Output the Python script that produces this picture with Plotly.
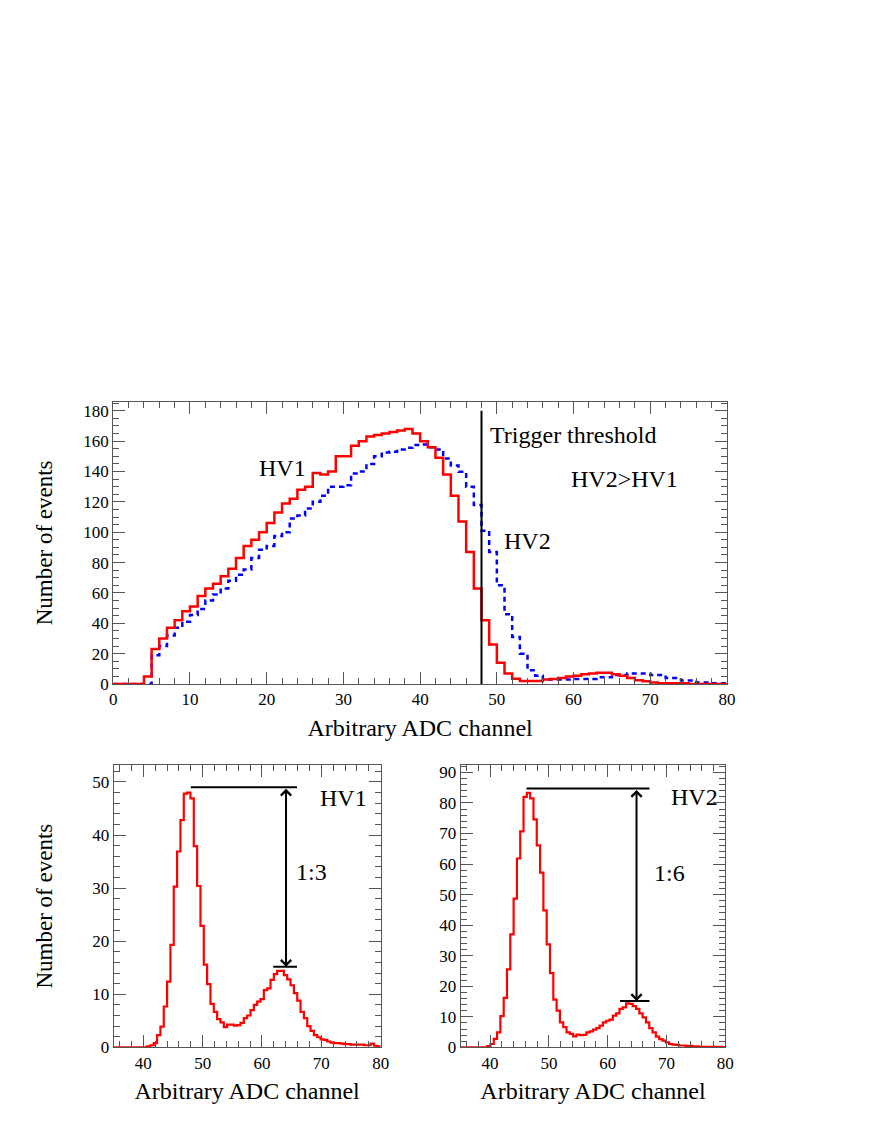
import numpy as np
import plotly.graph_objects as go

# top panel: unit bins 0..80
top_lo, top_hi = 0, 80
hv1_top = [0, 0, 0, 0, 5, 23, 30, 37, 42, 48,
           51, 58, 63, 66, 71, 76, 83, 91, 95, 100,
           106, 113, 119, 122, 128, 130, 139, 138, 140, 150,
           150, 157, 160, 163, 164, 165, 166, 167, 168, 165,
           160, 156, 149, 138, 124, 107, 87, 63, 42, 26,
           14, 7, 3.5, 2, 2, 2, 3, 3.3, 4, 5,
           5.5, 6.5, 7, 7.5, 7.5, 6.5, 5.5, 4, 2.5, 1.8,
           1, 0.5, 0.5, 0.5, 0.5, 0, 0, 0, 0, 0]
hv2_top = [0, 0, 0, 0, 0, 19, 25, 32, 37, 41,
           45.5, 49.5, 55, 59, 63, 68, 72, 75.5, 83, 88.5,
           91, 97.5, 100, 109, 111, 115.6, 120, 124, 130, 130,
           131, 138.7, 140, 145, 150, 152.6, 153, 154.5, 155.6, 157.4,
           157.8, 156, 154.5, 148.6, 144, 139.8, 130, 118, 101, 87,
           65, 46, 31, 20, 9, 5.5, 3, 3, 3, 3,
           3.3, 3.3, 3.3, 4.4, 4.4, 6, 6, 7, 7, 7,
           6, 6, 4, 4, 2.4, 2.4, 1, 1, 0.5, 0.5]
threshold = 48

# bottom panels: 80 bins from 35 to 80
bot_lo, bot_hi = 35, 80
hv1_bot = [0, 0, 0, 0, 0, 0, 0, 0, 0, 0,
           0.2, 0.4, 0.8, 2.3, 3.9, 7.7, 12.4, 19.3, 30.3, 36.9,
           42.8, 47.8, 48.0, 46.9, 37.9, 30.4, 22.9, 15.6, 11.9, 8.2,
           6.7, 5.3, 4.7, 3.8, 4.3, 4.3, 4.1, 4.2, 4.6, 5.5,
           6.0, 7.0, 8.0, 8.6, 9.1, 10.8, 11.1, 12.7, 13.8, 14.4,
           14.4, 13.6, 12.8, 11.7, 10.2, 8.8, 6.7, 5.5, 4.0, 3.1,
           2.3, 1.9, 1.5, 1.4, 1.1, 0.9, 0.8, 0.8, 0.7, 0.6,
           0.6, 0.5, 0.5, 0.5, 0.5, 0.4, 0.4, 0.7, 0.3, 0.2]
hv2_bot = [0, 0, 0, 0, 0, 0, 0, 0, 0.4, 1.1,
           2.8, 4.9, 10.2, 16.2, 25.5, 37, 48.7, 61.8, 70.7, 82,
           83.3, 81.5, 74.6, 66.1, 57.2, 44.8, 33.7, 24.3, 15.6, 12.0,
           8.2, 6.6, 4.9, 4.4, 3.6, 4.2, 4.0, 4.1, 4.9, 5.2,
           5.8, 6.3, 7.1, 8.2, 8.7, 9.1, 10.4, 11.1, 12.6, 13.1,
           14.4, 14.2, 13.5, 12.6, 11.1, 9.8, 8.2, 6.3, 4.9, 3.5,
           2.7, 2.2, 1.6, 1.1, 0.9, 0.8, 0.6, 0.6, 0.5, 0.5,
           0.3, 0.3, 0.2, 0.2, 0.2, 0.2, 0.2, 0.2, 0.2, 0.1]

# ratio markers: (peak level, shoulder level, line start, shoulder start, end, arrow x)
hv1_marks = dict(top=49.0, low=15.2, x0=48.0, xs=61.9, x1=65.9, xa=64.05)
hv2_marks = dict(top=84.7, low=15.2, x0=46.2, xs=62.1, x1=67.1, xa=64.9)

FONT = "Liberation Serif"
RED = "#ff0000"
BLUE = "#0000ff"

# page body has an 8px margin, so domains are shifted a bit
dx = 8 / 872
dy = 8 / 1128


def steps(lo, hi, vals):
    edges = np.linspace(lo, hi, len(vals) + 1)
    return edges, list(vals) + [vals[-1]]


fig = go.Figure()

x, y = steps(top_lo, top_hi, hv2_top)
fig.add_trace(go.Scatter(x=x, y=y, mode="lines", line=dict(color=BLUE, width=2.5, dash="5px,4px", shape="hv"),
                         xaxis="x", yaxis="y", showlegend=False))
x, y = steps(top_lo, top_hi, hv1_top)
fig.add_trace(go.Scatter(x=x, y=y, mode="lines", line=dict(color=RED, width=2.5, shape="hv"),
                         xaxis="x", yaxis="y", showlegend=False))
x, y = steps(bot_lo, bot_hi, hv1_bot)
fig.add_trace(go.Scatter(x=x, y=y, mode="lines", line=dict(color=RED, width=2.2, shape="hv"),
                         xaxis="x2", yaxis="y2", showlegend=False))
x, y = steps(bot_lo, bot_hi, hv2_bot)
fig.add_trace(go.Scatter(x=x, y=y, mode="lines", line=dict(color=RED, width=2.2, shape="hv"),
                         xaxis="x3", yaxis="y3", showlegend=False))

# trigger threshold
fig.add_shape(type="line", x0=threshold, x1=threshold, y0=0, y1=180, xref="x", yref="y",
              line=dict(color="black", width=2))

for m, xr, yr in [(hv1_marks, "x2", "y2"), (hv2_marks, "x3", "y3")]:
    fig.add_shape(type="line", x0=m["x0"], x1=m["x1"], y0=m["top"], y1=m["top"], xref=xr, yref=yr,
                  line=dict(color="black", width=2))
    fig.add_shape(type="line", x0=m["xs"], x1=m["x1"], y0=m["low"], y1=m["low"], xref=xr, yref=yr,
                  line=dict(color="black", width=2))
    fig.add_annotation(x=m["xa"], y=m["low"], ax=m["xa"], ay=m["top"], xref=xr, yref=yr,
                       axref=xr, ayref=yr, text="", showarrow=True, arrowhead=4, startarrowhead=4,
                       arrowside="end+start", arrowwidth=2, arrowsize=1, arrowcolor="black")

txt = dict(showarrow=False, font=dict(family=FONT, size=24, color="black"))
fig.add_annotation(x=22, y=142, xref="x", yref="y", text="HV1", **txt)
fig.add_annotation(x=48.9, y=164, xref="x", yref="y", text="Trigger threshold", xanchor="left", **txt)
fig.add_annotation(x=66.7, y=135, xref="x", yref="y", text="HV2>HV1", **txt)
fig.add_annotation(x=54, y=94, xref="x", yref="y", text="HV2", **txt)
fig.add_annotation(x=73.7, y=47.0, xref="x2", yref="y2", text="HV1", **txt)
fig.add_annotation(x=68.4, y=33.1, xref="x2", yref="y2", text="1:3", **txt)
fig.add_annotation(x=74.8, y=82, xref="x3", yref="y3", text="HV2", **txt)
fig.add_annotation(x=70.5, y=56.9, xref="x3", yref="y3", text="1:6", **txt)

axis_common = dict(showline=True, linecolor="#555", linewidth=1, mirror="allticks", ticks="inside",
                   tickcolor="#555", ticklen=12, showgrid=False, zeroline=False, automargin=False,
                   tickfont=dict(family=FONT, size=17, color="black"))
xtitle_font = dict(family=FONT, size=24, color="black")
ytitle_font = dict(family=FONT, size=23, color="black")

fig.update_layout(
    width=872, height=1128, margin=dict(l=0, r=0, t=0, b=0),
    paper_bgcolor="white", plot_bgcolor="white",
    xaxis=dict(domain=[0.1299 - dx, 0.8337 - dx], range=[0, 80], dtick=10, anchor="y",
               minor=dict(dtick=2, ticks="inside", ticklen=6, tickcolor="#555"),
               title=dict(text="Arbitrary ADC channel", font=xtitle_font, standoff=10), **axis_common),
    yaxis=dict(domain=[0.3936 + dy, 0.6439 + dy], range=[0, 186], dtick=20, anchor="x",
               minor=dict(dtick=5, ticks="inside", ticklen=6, tickcolor="#555"),
               title=dict(text="Number of events", font=ytitle_font, standoff=24), **axis_common),
    xaxis2=dict(domain=[0.1304 - dx, 0.4365 - dx], range=[35, 80], dtick=10, anchor="y2",
                minor=dict(dtick=2, ticks="inside", ticklen=6, tickcolor="#555"),
                title=dict(text="Arbitrary ADC channel", font=xtitle_font, standoff=10), **axis_common),
    yaxis2=dict(domain=[0.0715 + dy, 0.3218 + dy], range=[0, 53.2], dtick=10, anchor="x2",
                minor=dict(dtick=2, ticks="inside", ticklen=6, tickcolor="#555"),
                title=dict(text="Number of events", font=ytitle_font, standoff=33), **axis_common),
    xaxis3=dict(domain=[0.5283 - dx, 0.8318 - dx], range=[35, 80], dtick=10, anchor="y3",
                minor=dict(dtick=2, ticks="inside", ticklen=6, tickcolor="#555"),
                title=dict(text="Arbitrary ADC channel", font=xtitle_font, standoff=10), **axis_common),
    yaxis3=dict(domain=[0.0715 + dy, 0.3218 + dy], range=[0, 92.4], dtick=10, anchor="x3",
                minor=dict(dtick=2, ticks="inside", ticklen=6, tickcolor="#555"), **axis_common),
)

fig.write_html("out.html")
